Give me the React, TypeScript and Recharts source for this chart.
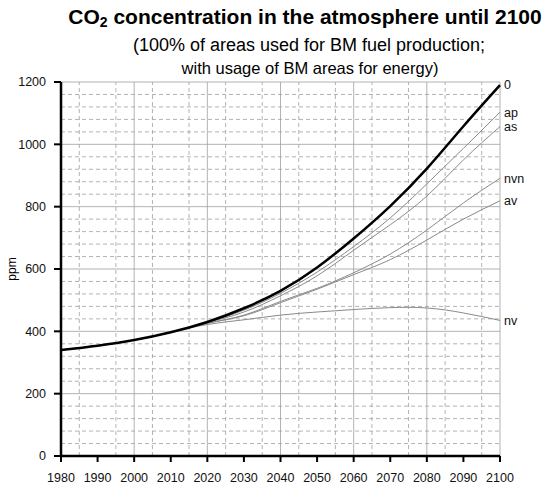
import React from 'react';
import {
  LineChart,
  Line,
  XAxis,
  YAxis,
  CartesianGrid,
  ReferenceLine,
} from 'recharts';

// years on the x axis
const years = [1980, 1990, 2000, 2010, 2020, 2030, 2040, 2050, 2060, 2070, 2080, 2090, 2100];

// CO2 in ppm per scenario
const co2Zero = [340, 354, 372, 397, 430, 474, 530, 605, 698, 802, 922, 1058, 1190];
const co2Ap = [340, 354, 372, 397, 429, 468, 522, 590, 672, 764, 873, 987, 1103];
const co2As = [340, 354, 372, 397, 428, 462, 514, 578, 660, 742, 834, 950, 1057];
const co2Nvn = [340, 354, 372, 397, 426, 452, 496, 538, 588, 648, 725, 812, 891];
const co2Av = [340, 354, 372, 397, 426, 450, 492, 535, 582, 630, 693, 760, 819];
const co2Nv = [340, 354, 372, 397, 422, 437, 452, 462, 470, 476, 475, 459, 435];

const xTicks = [1980, 1990, 2000, 2010, 2020, 2030, 2040, 2050, 2060, 2070, 2080, 2090, 2100];
const yTicks = [0, 200, 400, 600, 800, 1000, 1200];
const xMinor = [1985, 1995, 2005, 2015, 2025, 2035, 2045, 2055, 2065, 2075, 2085, 2095];
const yMinor = [
  40, 80, 120, 160, 240, 280, 320, 360, 440, 480, 520, 560, 640, 680, 720, 760,
  840, 880, 920, 960, 1040, 1080, 1120, 1160,
];

const series = [
  { key: 'zero', name: '0', values: co2Zero },
  { key: 'ap', name: 'ap', values: co2Ap },
  { key: 'as', name: 'as', values: co2As },
  { key: 'nvn', name: 'nvn', values: co2Nvn },
  { key: 'av', name: 'av', values: co2Av },
  { key: 'nv', name: 'nv', values: co2Nv },
];

const chartData = years.map((year, i) => {
  const row: Record<string, number> = { year };
  series.forEach(s => {
    row[s.key] = s.values[i];
  });
  return row;
});

const FONT = '"Liberation Sans", Arial, sans-serif';
const GRID = '#a0a0a0';

const endLabel = (name: string) => (props: any) => {
  if (props.index !== years.length - 1) return <g />;
  return (
    <text
      x={props.x + 4}
      y={props.y}
      dy="0.35em"
      fontSize={12.5}
      fontFamily={FONT}
      fill="#111"
    >
      {name}
    </text>
  );
};

const App: React.FC = () => {
  return (
    <div
      style={{
        position: 'absolute',
        left: 0,
        top: 0,
        width: 550,
        height: 488,
        background: '#fff',
        fontFamily: FONT,
      }}
    >
      <div
        style={{
          position: 'absolute',
          left: 55,
          width: 500,
          top: 5,
          textAlign: 'center',
          fontWeight: 'bold',
          fontSize: 21,
          color: '#000',
          whiteSpace: 'nowrap',
        }}
      >
        CO<sub style={{ fontSize: 14, verticalAlign: '-3px' }}>2</sub> concentration in the atmosphere until 2100
      </div>
      <div
        style={{
          position: 'absolute',
          left: 59,
          width: 500,
          top: 35,
          textAlign: 'center',
          fontSize: 18,
          color: '#000',
          whiteSpace: 'nowrap',
        }}
      >
        (100% of areas used for BM fuel production;
      </div>
      <div
        style={{
          position: 'absolute',
          left: 60,
          width: 500,
          top: 59,
          textAlign: 'center',
          fontSize: 16.5,
          color: '#000',
          whiteSpace: 'nowrap',
        }}
      >
        with usage of BM areas for energy)
      </div>
      <div
        style={{
          position: 'absolute',
          left: 0,
          top: 269,
          transform: 'translate(0, -50%) rotate(-90deg)',
          fontSize: 12,
          color: '#000',
        }}
      >
        ppm
      </div>
      <div style={{ position: 'absolute', left: 0, top: 0 }}>
        <LineChart
          width={550}
          height={488}
          data={chartData}
          margin={{ top: 82, right: 50, bottom: 2, left: 11 }}
        >
          <CartesianGrid stroke={GRID} strokeWidth={0.8} />
          {xMinor.map(v => (
            <ReferenceLine key={`x${v}`} x={v} stroke={GRID} strokeWidth={0.8} strokeDasharray="4 3" />
          ))}
          {yMinor.map(v => (
            <ReferenceLine key={`y${v}`} y={v} stroke={GRID} strokeWidth={0.8} strokeDasharray="4 3" />
          ))}
          <XAxis
            dataKey="year"
            type="number"
            domain={[1980, 2100]}
            ticks={xTicks}
            height={30}
            axisLine={{ stroke: '#000', strokeWidth: 2.5 }}
            tickLine={{ stroke: '#000', strokeWidth: 2 }}
            tickSize={6}
            tickMargin={11}
            tick={{ fontSize: 12.5, fill: '#111', fontFamily: FONT }}
          />
          <YAxis
            type="number"
            domain={[0, 1200]}
            ticks={yTicks}
            width={50}
            axisLine={{ stroke: '#000', strokeWidth: 2.5 }}
            tickLine={{ stroke: '#000', strokeWidth: 2 }}
            tickSize={7}
            tickMargin={8}
            tick={{ fontSize: 12.5, fill: '#111', fontFamily: FONT }}
          />
          {series
            .slice()
            .reverse()
            .map(s => (
              <Line
                key={s.key}
                dataKey={s.key}
                type="natural"
                stroke={s.key === 'zero' ? '#000' : '#8a8a8a'}
                strokeWidth={s.key === 'zero' ? 2.5 : 1}
                dot={false}
                activeDot={false}
                isAnimationActive={false}
                label={endLabel(s.name)}
              />
            ))}
        </LineChart>
      </div>
    </div>
  );
};

export default App;
